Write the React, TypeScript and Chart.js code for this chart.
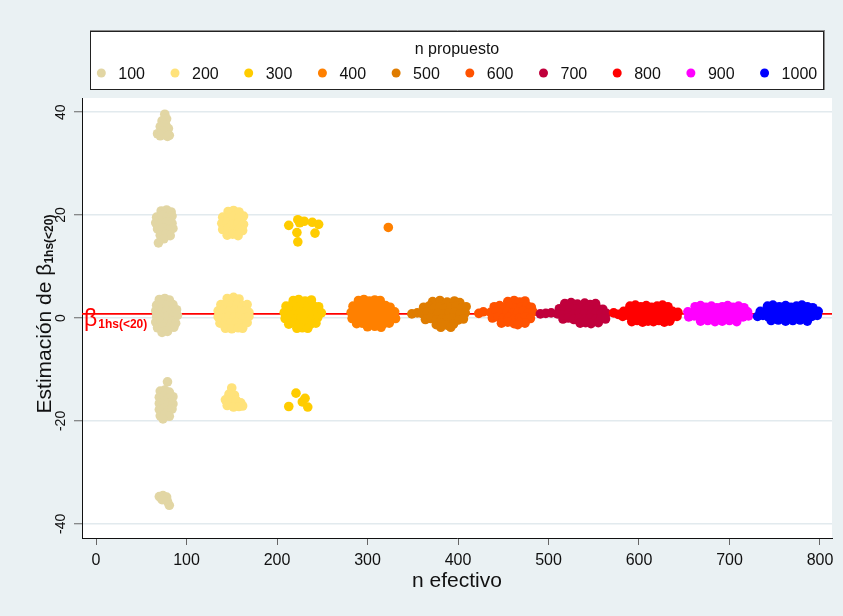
import React, { useEffect, useRef } from 'react';
import { Chart, registerables } from 'chart.js';

Chart.register(...registerables);

const propuesto = ['100', '200', '300', '400', '500', '600', '700', '800', '900', '1000'];
const colors = ['#e2d6a4', '#ffe27a', '#ffcc00', '#ff8000', '#df7c00', '#ff5200', '#c0003c', '#ff0000', '#ff00ff', '#0000ff'];
const xTicks = [0, 100, 200, 300, 400, 500, 600, 700, 800];
const yTicks = [-40, -20, 0, 20, 40];
const betaRef = 0.8;

const est100: [number, number][] = [
  [76, 39.6], [78, 38.7], [73, 38.3], [77, 37.5], [71, 37.2], [80, 36.8], [74, 36.3], [68, 35.8], [77, 35.6], [81, 35.5], [71, 35.4], [79, 35.3],
  [72, 20.8], [78, 21.0], [83, 20.6], [67, 19.6], [73, 19.9], [79, 19.5], [84, 19.8], [66, 18.5], [72, 18.3], [78, 18.7], [84, 18.4],
  [68, 17.3], [74, 17.5], [80, 17.2], [85, 17.4], [71, 16.1], [77, 16.3], [82, 16.0], [75, 15.4], [69, 14.6],
  [70, 3.6], [76, 3.8], [81, 3.5], [67, 2.5], [73, 2.7], [79, 2.4], [85, 2.6], [66, 1.4], [72, 1.2], [78, 1.5], [84, 1.3], [89, 1.6],
  [67, 0.3], [73, 0.1], [79, 0.4], [85, 0.2], [90, 0.5], [66, -0.8], [72, -0.6], [78, -0.9], [84, -0.7], [88, -1.0],
  [68, -1.9], [74, -1.7], [80, -2.0], [86, -1.8], [73, -2.8], [79, -2.6],
  [79, -12.4], [71, -14.2], [76, -14.0], [81, -14.4], [70, -15.4], [75, -15.2], [80, -15.6], [85, -15.3], [70, -16.6], [75, -16.8],
  [80, -16.5], [85, -16.7], [70, -17.8], [75, -17.6], [80, -18.0], [84, -17.7], [71, -19.0], [76, -18.8], [81, -19.1], [74, -19.6],
  [70, -34.7], [74, -34.5], [78, -34.8], [73, -35.3], [79, -35.7], [81, -36.4],
];

const est200: [number, number][] = [
  [146, 20.7], [152, 20.9], [158, 20.6], [140, 19.6], [146, 19.4], [152, 19.7], [158, 19.5], [163, 19.8], [139, 18.4], [145, 18.6],
  [151, 18.3], [157, 18.5], [163, 18.2], [140, 17.2], [146, 17.4], [152, 17.1], [158, 17.3], [162, 17.0], [145, 16.1], [151, 16.3], [157, 16.0],
  [145, 3.8], [152, 4.0], [158, 3.7], [138, 2.6], [144, 2.8], [150, 2.5], [156, 2.7], [162, 2.4], [167, 2.6], [135, 1.4], [141, 1.6],
  [147, 1.3], [153, 1.5], [159, 1.2], [165, 1.4], [169, 1.1], [135, 0.2], [141, 0.0], [147, 0.3], [153, 0.1], [159, 0.4], [165, 0.0],
  [169, 0.3], [137, -1.0], [143, -0.8], [149, -1.1], [155, -0.9], [161, -1.2], [167, -0.9], [143, -2.0], [150, -2.1], [157, -1.9], [162, -2.0],
  [150, -13.6], [147, -14.8], [153, -15.0], [143, -15.9], [149, -16.2], [155, -16.0], [160, -16.5], [145, -17.0], [152, -17.3], [158, -17.2], [162, -17.1],
];

const est300: [number, number][] = [
  [218, 3.4], [224, 3.6], [231, 3.3], [238, 3.5], [210, 2.3], [216, 2.5], [222, 2.2], [228, 2.4], [234, 2.1], [240, 2.4], [246, 2.2],
  [208, 1.1], [214, 1.3], [220, 1.0], [226, 1.2], [232, 0.9], [238, 1.1], [244, 1.3], [249, 1.0], [209, -0.1], [215, 0.1], [221, -0.2],
  [227, 0.0], [233, -0.3], [239, -0.1], [245, 0.1], [213, -1.2], [219, -1.0], [225, -1.3], [231, -1.1], [237, -1.2], [243, -1.0],
  [222, -2.0], [228, -1.9], [234, -2.0],
  [213, 18.0], [223, 19.1], [225, 18.5], [230, 18.8], [239, 18.6], [246, 18.2], [222, 16.6], [242, 16.5], [223, 14.8],
  [213, -17.2], [221, -14.6], [228, -16.3], [231, -15.6], [234, -17.3],
];

const est400: [number, number][] = [
  [290, 3.4], [296, 3.6], [302, 3.3], [308, 3.5], [314, 3.4], [284, 2.3], [290, 2.1], [296, 2.4], [302, 2.2], [308, 2.5], [314, 2.2],
  [320, 2.4], [325, 2.1], [282, 1.1], [288, 1.3], [294, 1.0], [300, 1.2], [306, 0.9], [312, 1.1], [318, 1.3], [324, 1.0], [330, 1.2],
  [283, -0.1], [289, 0.1], [295, -0.2], [301, 0.0], [307, -0.1], [313, 0.1], [319, -0.2], [325, 0.0], [331, -0.1], [288, -1.1],
  [294, -1.0], [300, -1.2], [306, -1.1], [312, -0.9], [318, -1.1], [324, -1.0], [300, -1.7], [308, -1.6], [315, -1.8],
  [323, 17.6],
];

const est500: [number, number][] = [
  [349, 0.8], [355, 1.0],
  [372, 3.2], [380, 3.4], [388, 3.1], [396, 3.3], [402, 3.0], [362, 2.1], [368, 2.3], [374, 2.0], [380, 2.2], [386, 1.9], [392, 2.1],
  [398, 2.3], [404, 2.0], [409, 2.2], [360, 0.9], [366, 1.1], [372, 0.8], [378, 1.0], [384, 0.7], [390, 0.9], [396, 1.1], [402, 0.8],
  [408, 1.0], [364, -0.3], [370, -0.1], [376, -0.4], [382, -0.2], [388, -0.3], [394, -0.1], [400, -0.4], [406, -0.2], [376, -1.3],
  [382, -1.1], [388, -1.4], [395, -1.2], [381, -1.8], [392, -1.8],
];

const est600: [number, number][] = [
  [423, 0.9], [428, 1.2],
  [455, 3.2], [462, 3.4], [468, 3.1], [474, 3.3], [440, 2.2], [446, 2.4], [452, 2.1], [458, 2.3], [464, 2.0], [470, 2.2], [476, 2.4],
  [481, 2.1], [436, 1.1], [442, 1.3], [448, 1.0], [454, 1.2], [460, 0.9], [466, 1.1], [472, 1.3], [478, 1.0], [483, 1.2], [438, 0.0],
  [444, 0.2], [450, -0.1], [456, 0.1], [462, -0.2], [468, 0.0], [474, 0.2], [480, -0.1], [448, -1.0], [455, -0.8], [462, -1.1],
  [468, -0.9], [474, -1.0], [466, -1.3],
];

const est700: [number, number][] = [
  [491, 0.8], [497, 0.9], [503, 1.0],
  [518, 2.8], [525, 3.0], [532, 2.7], [540, 2.9], [546, 2.6], [552, 2.8], [512, 1.8], [518, 1.6], [524, 1.9], [530, 1.7], [536, 2.0],
  [542, 1.8], [548, 1.6], [554, 1.9], [560, 1.7], [510, 0.8], [516, 0.6], [522, 0.9], [528, 0.7], [534, 1.0], [540, 0.8], [546, 0.6],
  [552, 0.9], [558, 0.7], [564, 0.9], [516, -0.2], [522, 0.0], [528, -0.3], [534, -0.1], [540, -0.2], [546, 0.0], [552, -0.3],
  [558, -0.1], [563, -0.2], [535, -1.0], [541, -0.9], [547, -1.1], [555, -0.9],
];

const est800: [number, number][] = [
  [572, 1.0], [577, 0.7],
  [590, 2.3], [596, 2.5], [602, 2.2], [608, 2.4], [614, 2.1], [620, 2.3], [626, 2.5], [632, 2.2], [583, 1.3], [589, 1.1], [595, 1.4],
  [601, 1.2], [607, 1.5], [613, 1.3], [619, 1.1], [625, 1.4], [631, 1.2], [637, 1.3], [643, 1.1], [582, 0.3], [588, 0.5], [594, 0.2],
  [600, 0.4], [606, 0.1], [612, 0.3], [618, 0.5], [624, 0.2], [630, 0.4], [636, 0.1], [642, 0.3], [592, -0.7], [598, -0.5], [604, -0.8],
  [610, -0.6], [616, -0.7], [622, -0.5], [628, -0.8], [634, -0.6],
];

const est900: [number, number][] = [
  [662, 2.2], [668, 2.4], [674, 2.1], [680, 2.3], [686, 2.0], [692, 2.2], [698, 2.4], [704, 2.1], [710, 2.3], [716, 2.0], [654, 1.2],
  [660, 1.0], [666, 1.3], [672, 1.1], [678, 1.4], [684, 1.2], [690, 1.0], [696, 1.3], [702, 1.1], [708, 1.2], [714, 1.0], [720, 1.2],
  [655, 0.2], [661, 0.4], [667, 0.1], [673, 0.3], [679, 0.0], [685, 0.2], [691, 0.4], [697, 0.1], [703, 0.3], [709, 0.0], [715, 0.2],
  [721, 0.4], [668, -0.6], [676, -0.5], [684, -0.7], [692, -0.6], [700, -0.5], [708, -0.7],
];

const est1000: [number, number][] = [
  [742, 2.3], [748, 2.5], [755, 2.2], [762, 2.4], [768, 2.1], [774, 2.3], [780, 2.5], [786, 2.2], [792, 2.0], [734, 1.3], [740, 1.1],
  [746, 1.4], [752, 1.2], [758, 1.5], [764, 1.3], [770, 1.1], [776, 1.4], [782, 1.2], [788, 1.3], [794, 1.1], [798, 1.3], [731, 0.3],
  [737, 0.5], [743, 0.2], [749, 0.4], [755, 0.1], [761, 0.3], [767, 0.5], [773, 0.2], [779, 0.4], [785, 0.1], [791, 0.3], [797, 0.5],
  [746, -0.5], [754, -0.4], [762, -0.6], [770, -0.5], [778, -0.4], [786, -0.6],
];

const groups = [est100, est200, est300, est400, est500, est600, est700, est800, est900, est1000];

const FONT = '"Liberation Sans", Arial, Helvetica, sans-serif';

export default function App() {
  const ref = useRef<HTMLCanvasElement>(null);

  useEffect(() => {
    const canvas = ref.current;
    if (!canvas) return;

    const decor = {
      id: 'decor',
      beforeDraw(chart: any) {
        const { ctx, chartArea: a, width, height } = chart;
        ctx.save();
        ctx.fillStyle = '#eaf1f3';
        ctx.fillRect(0, 0, width, height);
        ctx.fillStyle = '#ffffff';
        ctx.fillRect(a.left, a.top, a.right - a.left, a.bottom - a.top);
        ctx.restore();
      },
      beforeDatasetsDraw(chart: any) {
        const { ctx, chartArea: a } = chart;
        const py = chart.scales.y.getPixelForValue(betaRef);
        ctx.save();
        ctx.strokeStyle = '#ff0000';
        ctx.lineWidth = 1.8;
        ctx.beginPath();
        ctx.moveTo(a.left, py);
        ctx.lineTo(a.right, py);
        ctx.stroke();
        ctx.restore();
      },
      afterDraw(chart: any) {
        const { ctx, chartArea: a } = chart;
        const ys = chart.scales.y;
        ctx.save();
        // Legend box
        const L = a.left + 8, R = a.right - 8, T = 31, B = 90;
        ctx.fillStyle = '#ffffff';
        ctx.fillRect(L, T, R - L, B - T);
        ctx.strokeStyle = '#222222';
        ctx.lineWidth = 1;
        ctx.strokeRect(L + 0.5, T + 0.5, R - L - 1, B - T - 1);
        ctx.strokeStyle = '#8a8a8a';
        ctx.beginPath();
        ctx.moveTo(L, T - 0.5);
        ctx.lineTo(R + 1, T - 0.5);
        ctx.moveTo(R + 0.5, T);
        ctx.lineTo(R + 0.5, B);
        ctx.stroke();

        ctx.fillStyle = '#111111';
        ctx.font = `16px ${FONT}`;
        ctx.textAlign = 'center';
        ctx.textBaseline = 'alphabetic';
        ctx.fillText('n propuesto', (L + R) / 2, 54);

        const r = 4.5, gapText = 17, gapItem = 30;
        const widths = propuesto.map((s) => ctx.measureText(s).width);
        const total = widths.reduce((s, w) => s + gapText + w, 0) + gapItem * (propuesto.length - 1) + r;
        let x = (L + R) / 2 - total / 2 + r;
        ctx.textAlign = 'left';
        propuesto.forEach((s, i) => {
          ctx.fillStyle = colors[i];
          ctx.beginPath();
          ctx.arc(x, 73, r, 0, Math.PI * 2);
          ctx.fill();
          ctx.fillStyle = '#111111';
          ctx.fillText(s, x + gapText, 79);
          x += gapText + widths[i] + gapItem;
        });

        // X title
        ctx.font = `21px ${FONT}`;
        ctx.textAlign = 'center';
        ctx.fillStyle = '#111111';
        ctx.fillText('n efectivo', (a.left + a.right) / 2, 587);

        // Y tick labels (rotated)
        ctx.font = `14px ${FONT}`;
        yTicks.forEach((v) => {
          const py = ys.getPixelForValue(v);
          ctx.save();
          ctx.translate(65, py);
          ctx.rotate(-Math.PI / 2);
          ctx.textAlign = 'center';
          ctx.fillText(String(v), 0, 0);
          ctx.restore();
        });

        // Y title with subscript
        const main = 'Estimación de β';
        const sub = '1hs(<20)';
        ctx.font = `21px ${FONT}`;
        const wm = ctx.measureText(main).width;
        ctx.font = `bold 12px ${FONT}`;
        const ws = ctx.measureText(sub).width;
        const cy = (a.top + a.bottom) / 2 - 4;
        ctx.save();
        ctx.translate(51, cy);
        ctx.rotate(-Math.PI / 2);
        ctx.textAlign = 'left';
        ctx.font = `21px ${FONT}`;
        ctx.fillText(main, -(wm + ws) / 2, 0);
        ctx.font = `bold 12px ${FONT}`;
        ctx.fillText(sub, -(wm + ws) / 2 + wm, 2);
        ctx.restore();

        // Red reference label
        const ry = ys.getPixelForValue(betaRef);
        ctx.fillStyle = '#ff0000';
        ctx.textAlign = 'left';
        ctx.font = `23px ${FONT}`;
        ctx.fillText('β', a.left + 2, ry + 12);
        const bw = ctx.measureText('β').width;
        ctx.font = `bold 12px ${FONT}`;
        ctx.fillText(sub, a.left + 2 + bw + 1, ry + 14);
        ctx.restore();
      },
    };

    const chart = new Chart(canvas, {
      type: 'scatter',
      data: {
        datasets: groups.map((g, i) => ({
          label: propuesto[i],
          data: g.map(([x, y]) => ({ x, y })),
          backgroundColor: colors[i],
          borderWidth: 0,
          pointRadius: 4.8,
          pointHoverRadius: 4.8,
          order: groups.length - i,
        })),
      },
      options: {
        responsive: false,
        animation: false,
        events: [],
        layout: { padding: { top: 98, right: 11, bottom: 0, left: 0 } },
        plugins: {
          legend: { display: false },
          tooltip: { enabled: false },
          title: { display: false },
        },
        scales: {
          x: {
            type: 'linear',
            min: -15.47,
            max: 813.26,
            afterBuildTicks: (s: any) => {
              s.ticks = xTicks.map((v) => ({ value: v }));
            },
            afterFit: (s: any) => {
              s.height = 78;
            },
            grid: { drawOnChartArea: false, drawTicks: true, tickLength: 7, tickColor: '#666666', tickWidth: 1 },
            border: { display: true, color: '#111111', width: 1 },
            ticks: { font: { family: FONT, size: 16 }, color: '#111111', padding: 6, maxRotation: 0, autoSkip: false },
          },
          y: {
            type: 'linear',
            min: -42.75,
            max: 42.75,
            afterBuildTicks: (s: any) => {
              s.ticks = yTicks.map((v) => ({ value: v }));
            },
            afterFit: (s: any) => {
              s.width = 82;
            },
            grid: { color: '#e2eaee', lineWidth: 1.5, drawTicks: true, tickLength: 8, tickColor: '#666666', tickWidth: 1 },
            border: { display: true, color: '#111111', width: 1 },
            ticks: { display: false },
          },
        },
      } as any,
      plugins: [decor],
    });

    return () => chart.destroy();
  }, []);

  return (
    <div style={{ position: 'fixed', left: 0, top: 0, width: 843, height: 616 }}>
      <canvas ref={ref} width={843} height={616} style={{ display: 'block' }} />
    </div>
  );
}
